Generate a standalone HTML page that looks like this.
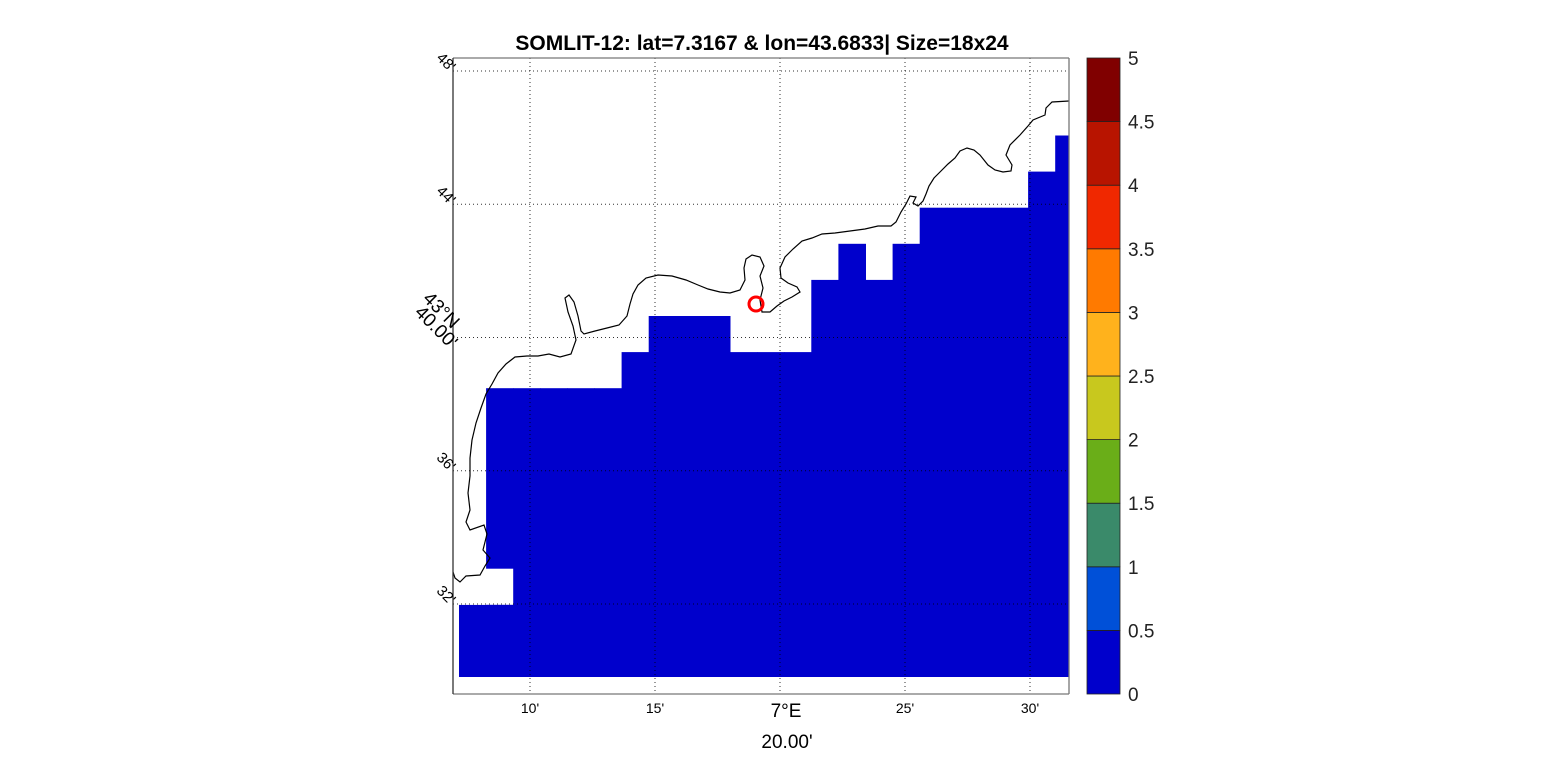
<!DOCTYPE html>
<html><head><meta charset="utf-8">
<style>
html,body{margin:0;padding:0;background:#fff;}
svg{display:block;font-family:"Liberation Sans",Arial,sans-serif;}
</style></head>
<body>
<svg id="chart" width="1563" height="781" viewBox="0 0 1563 781">
  <text x="762" y="50" text-anchor="middle" font-size="21" font-weight="bold" fill="#000">SOMLIT-12: lat=7.3167 &amp; lon=43.6833| Size=18x24</text>
  <g id="blue"></g>
  <g id="grid"></g>
  <polyline fill="none" stroke="#000" stroke-width="1.2" points="1069,101 1052,102 1046,108 1045,115 1033,120 1028,126 1020,135 1010,145 1006,155 1012,165 1011,171 1003,172 995,170 988,165 980,155 974,150 967,148 960,151 955,158 948,164 940,172 934,178 929,186 926,194 923,201 918,206 913,203 916,197 910,196 906,204 901,212 896,222 891,226 878,226 865,229 850,231 835,233 822,234 812,238 802,241 793,249 785,257 780,268 781,278 788,283 797,287 800,292 792,297 784,301 777,306 770,312 762,312 760,300 763,288 760,276 764,266 760,257 752,255 746,259 744,268 745,280 740,290 730,293 720,292 708,289 698,285 686,280 672,276 658,275 646,278 638,285 633,294 630,304 627,316 619,325 607,328 595,331 584,334 581,331 578,316 574,302 569,295 565,298 568,312 573,326 576,340 571,354 560,357 549,354 538,356 527,356 515,357 506,364 498,373 492,384 486,394 481,408 476,423 472,440 470,458 470,476 468,493 470,510 466,522 470,530 484,525 487,534 483,550 490,558 485,566 480,575 466,576 460,582 455,578 453,572"/>
  <g>
    <line x1="453" y1="58" x2="1069" y2="58" stroke="#777" stroke-width="1.3"/>
    <line x1="1069" y1="58" x2="1069" y2="694" stroke="#777" stroke-width="1.3"/>
    <line x1="453" y1="694" x2="1069" y2="694" stroke="#777" stroke-width="1.3"/>
    <line x1="453" y1="58" x2="453" y2="694" stroke="#333" stroke-width="1.3"/>
  </g>
  <circle cx="756" cy="304" r="7" fill="none" stroke="#f00" stroke-width="3"/>
  <g id="labels"></g>
  <g id="cbar"></g>
</svg>
<script>
// ---- data ----
const colTops = [2,8,8,8,8,8,9,10,10,10,9,9,9,11,12,11,12,13,13,13,13,14,15,15];
const holeCells = [[1,2]];
const lonTicks = [10,15,25,30];
const lonTickLabels = ["10'","15'","25'","30'"];
const latTicks = [48,44,40,36,32];
const latTickLabels = ["48'","44'","","36'","32'"];
const cbarValues = [0,0.5,1,1.5,2,2.5,3,3.5,4,4.5,5];
const cbarLabels = ["0","0.5","1","1.5","2","2.5","3","3.5","4","4.5","5"];
const cbarColors = ["#0000cc","#0050d8","#3a8a6a","#6aae18","#c8c81e","#ffb21c","#ff7a00","#f02800","#b81400","#800000"];

const NS="http://www.w3.org/2000/svg";
function mk(tag,attrs,parent){const e=document.createElementNS(NS,tag);for(const k in attrs)e.setAttribute(k,attrs[k]);parent.appendChild(e);return e;}
// axis functions
const cx = i => 459 + 27.1*i;
const cy = j => 677 - 36.1*j;
const lonX = m => 530 + (m-10)*25;
const latY = m => 71 + (48-m)*(133.25/4);
const cbY = v => 694 - v*(636/5);

const blue=document.getElementById('blue');
colTops.forEach((t,i)=>{
  const w = Math.min(cx(i+1),1069)-cx(i);
  if(w<=0) return;
  const r=mk('rect',{x:cx(i),y:cy(t),width:w+0.5,height:cy(0)-cy(t),fill:'#0000cc'},blue);
  
  
});
holeCells.forEach(([a,b])=>{
  const r=mk('rect',{x:cx(0),y:cy(b+1),width:cx(a+1)-cx(0),height:cy(b)-cy(b+1),fill:'#fff'},blue);
  
  
});

const grid=document.getElementById('grid');
[10,15,20,25,30].forEach(m=>{
  const l=mk('line',{x1:lonX(m),y1:58,x2:lonX(m),y2:694,stroke:'#000','stroke-width':1,'stroke-dasharray':'1,3',opacity:0.8},grid);
  
  
});
latTicks.forEach(m=>{
  const l=mk('line',{x1:453,y1:latY(m),x2:1069,y2:latY(m),stroke:'#000','stroke-width':1,'stroke-dasharray':'1,3',opacity:0.8},grid);
  
  
});

const lab=document.getElementById('labels');
lonTicks.forEach((m,i)=>{
  const t=mk('text',{x:lonX(m),y:713,'text-anchor':'middle','font-size':14},lab);
  t.textContent=lonTickLabels[i];
  
  
});
let t=mk('text',{x:786,y:717,'text-anchor':'middle','font-size':19},lab);t.textContent="7°E";


t=mk('text',{x:787,y:748,'text-anchor':'middle','font-size':19},lab);t.textContent="20.00'";


latTicks.forEach((m,i)=>{
  if(!latTickLabels[i])return;
  const y=latY(m);
  const e=mk('text',{x:451,y:y+2,'text-anchor':'end','font-size':15,transform:`rotate(45 451 ${y})`},lab);
  e.textContent=latTickLabels[i];
  
  
});
t=mk('text',{x:452,y:latY(40)-8,'text-anchor':'end','font-size':19,transform:`rotate(45 452 ${latY(40)-8})`},lab);t.textContent="43°N";


t=mk('text',{x:450,y:latY(40)+12,'text-anchor':'end','font-size':19,transform:`rotate(45 450 ${latY(40)+12})`},lab);t.textContent="40.00'";



const cb=document.getElementById('cbar');
cbarColors.forEach((c,i)=>{
  const r=mk('rect',{x:1087,y:cbY(cbarValues[i+1]),width:33,height:cbY(cbarValues[i])-cbY(cbarValues[i+1]),fill:c,stroke:'#222','stroke-width':0.8},cb);
  
  
});
cbarValues.forEach((v,i)=>{
  const e=mk('text',{x:1128,y:cbY(v)+7,'font-size':19,fill:'#222'},cb);
  e.textContent=cbarLabels[i];
  
  
});
</script>
</body></html>
